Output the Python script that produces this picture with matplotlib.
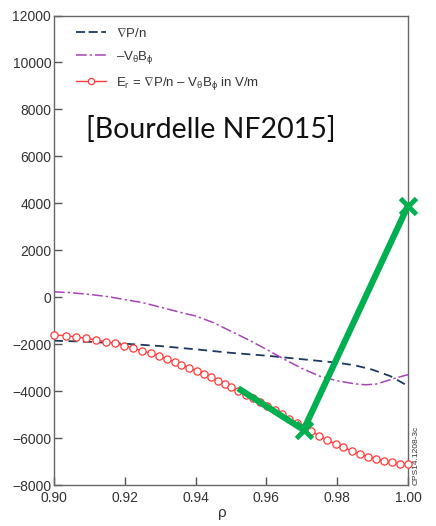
import numpy as np
import matplotlib.pyplot as plt
from matplotlib.lines import Line2D

plt.rcParams['font.family'] = ['Liberation Sans', 'DejaVu Sans']
plt.rcParams['mathtext.fontset'] = 'custom'
plt.rcParams['mathtext.rm'] = 'Liberation Sans'
plt.rcParams['mathtext.it'] = 'Liberation Sans'
plt.rcParams['mathtext.fallback'] = 'stixsans'

# grad P / n  (dashed)
rho_p = [0.900, 0.910, 0.920, 0.930, 0.940, 0.950, 0.960, 0.970, 0.980, 0.985, 0.990, 0.995, 1.000]
gradp = [-1850, -1900, -1980, -2080, -2220, -2370, -2490, -2640, -2790, -2900, -3090, -3360, -3780]

# -V_theta B_phi  (dash-dot)
rho_v = [0.900, 0.905, 0.910, 0.915, 0.920, 0.925, 0.930, 0.935, 0.940, 0.945, 0.950,
         0.955, 0.960, 0.965, 0.970, 0.975, 0.980, 0.985, 0.988, 0.991, 0.994, 0.997, 1.000]
vb = [230, 190, 120, 30, -100, -230, -420, -620, -800, -1080, -1450,
      -1820, -2220, -2640, -3030, -3360, -3560, -3690, -3730, -3700, -3560, -3420, -3300]

# E_r  (circles)
rho_e = [0.9000, 0.9033, 0.9061, 0.9090, 0.9118, 0.9146, 0.9171, 0.9198, 0.9224, 0.9249,
         0.9273, 0.9297, 0.9318, 0.9341, 0.9360, 0.9381, 0.9403, 0.9424, 0.9443, 0.9463,
         0.9482, 0.9501, 0.9521, 0.9541, 0.9561, 0.9582, 0.9602, 0.9623, 0.9643, 0.9664,
         0.9685, 0.9706, 0.9727, 0.9749, 0.9772, 0.9796, 0.9817, 0.9841, 0.9864, 0.9886,
         0.9909, 0.9932, 0.9955, 0.9977, 1.0000]
er = [-1610, -1640, -1690, -1750, -1820, -1890, -1960, -2060, -2170, -2280,
      -2390, -2510, -2630, -2760, -2870, -3000, -3140, -3280, -3410, -3550,
      -3690, -3830, -3990, -4150, -4310, -4480, -4650, -4820, -4990, -5170,
      -5350, -5530, -5710, -5900, -6100, -6250, -6400, -6540, -6680, -6800,
      -6890, -6970, -7040, -7090, -7120]

# hand-drawn green annotation
rho_g = [0.9520, 0.9705, 1.0000]
er_g = [-3880, -5650, 3900]
rho_x = [0.9705, 1.0000]
er_x = [-5650, 3900]

fig = plt.figure(figsize=(4.36, 5.26), dpi=100)
ax = fig.add_axes([0.1239, 0.0779, 0.8119, 0.8926])

c_dash = '#1c3a5e'
c_dd = '#a645b5'
c_red = '#ff3b3b'
c_grn = '#00b050'

ax.plot(rho_p, gradp, color=c_dash, lw=1.3, dashes=(5, 3))
ax.plot(rho_v, vb, color=c_dd, lw=1.1, dashes=(7, 2, 1.5, 2))
ax.plot(rho_e, er, color=c_red, lw=1.0, marker='o', ms=5.2, mfc='white',
        mec=c_red, mew=0.9, clip_on=False, zorder=3)

ax.plot(rho_g, er_g, color=c_grn, lw=4.5, solid_capstyle='butt', zorder=5, clip_on=False)
ax.plot(rho_x, er_x, ls='none', marker='x', ms=12, mew=3.5, color=c_grn, zorder=6,
        clip_on=False)

ax.set_xlim(0.90, 1.00)
ax.set_ylim(-8000, 12000)
ax.set_xticks([0.90, 0.92, 0.94, 0.96, 0.98, 1.00])
ax.set_xticklabels(['0.90', '0.92', '0.94', '0.96', '0.98', '1.00'])
ax.set_yticks(np.arange(-8000, 12001, 2000))
ax.set_yticklabels(['\u22128000', '\u22126000', '\u22124000', '\u22122000', '0',
                    '2000', '4000', '6000', '8000', '10000', '12000'])
ax.tick_params(direction='in', length=6, width=1, color='#555555',
               labelsize=10, labelcolor='#333333', pad=2)
ax.tick_params(axis='x', pad=4)
for s in ax.spines.values():
    s.set_color('#666666')
    s.set_linewidth(1.0)

ax.set_xlabel('\u03c1', fontsize=11, color='#333333')
ax.xaxis.set_label_coords(0.475, -0.045)

handles = [
    Line2D([], [], color=c_dash, lw=1.3, dashes=(5, 2)),
    Line2D([], [], color=c_dd, lw=1.1, dashes=(7, 2, 1.5, 2)),
    Line2D([], [], color=c_red, lw=1.0, marker='o', ms=4.5, mfc='white', mec=c_red, mew=0.9),
]
labels = [
    '$\\nabla$P/n',
    '\u2013V$_\\theta$B$_\\phi$',
    'E$_\\mathrm{r}$ = $\\nabla$P/n \u2013 V$_\\theta$B$_\\phi$ in V/m',
]
leg = ax.legend(handles, labels, loc='upper left', bbox_to_anchor=(0.062, 0.975),
                frameon=False, fontsize=9.5, handlelength=2.3, handletextpad=0.7,
                labelspacing=0.7, borderpad=0, borderaxespad=0)
for t in leg.get_texts():
    t.set_color('#333333')

ax.text(0.4435, 0.758, '[Bourdelle NF2015]', transform=ax.transAxes,
        ha='center', va='center', fontsize=20.5, family=['Lato', 'DejaVu Sans'],
        color='#111111')

ax.text(1.012, 0.0, 'CPS14.1208-3c', transform=ax.transAxes, rotation=90,
        ha='left', va='bottom', fontsize=6, color='#333333')

fig.savefig('out.png', dpi=100)
